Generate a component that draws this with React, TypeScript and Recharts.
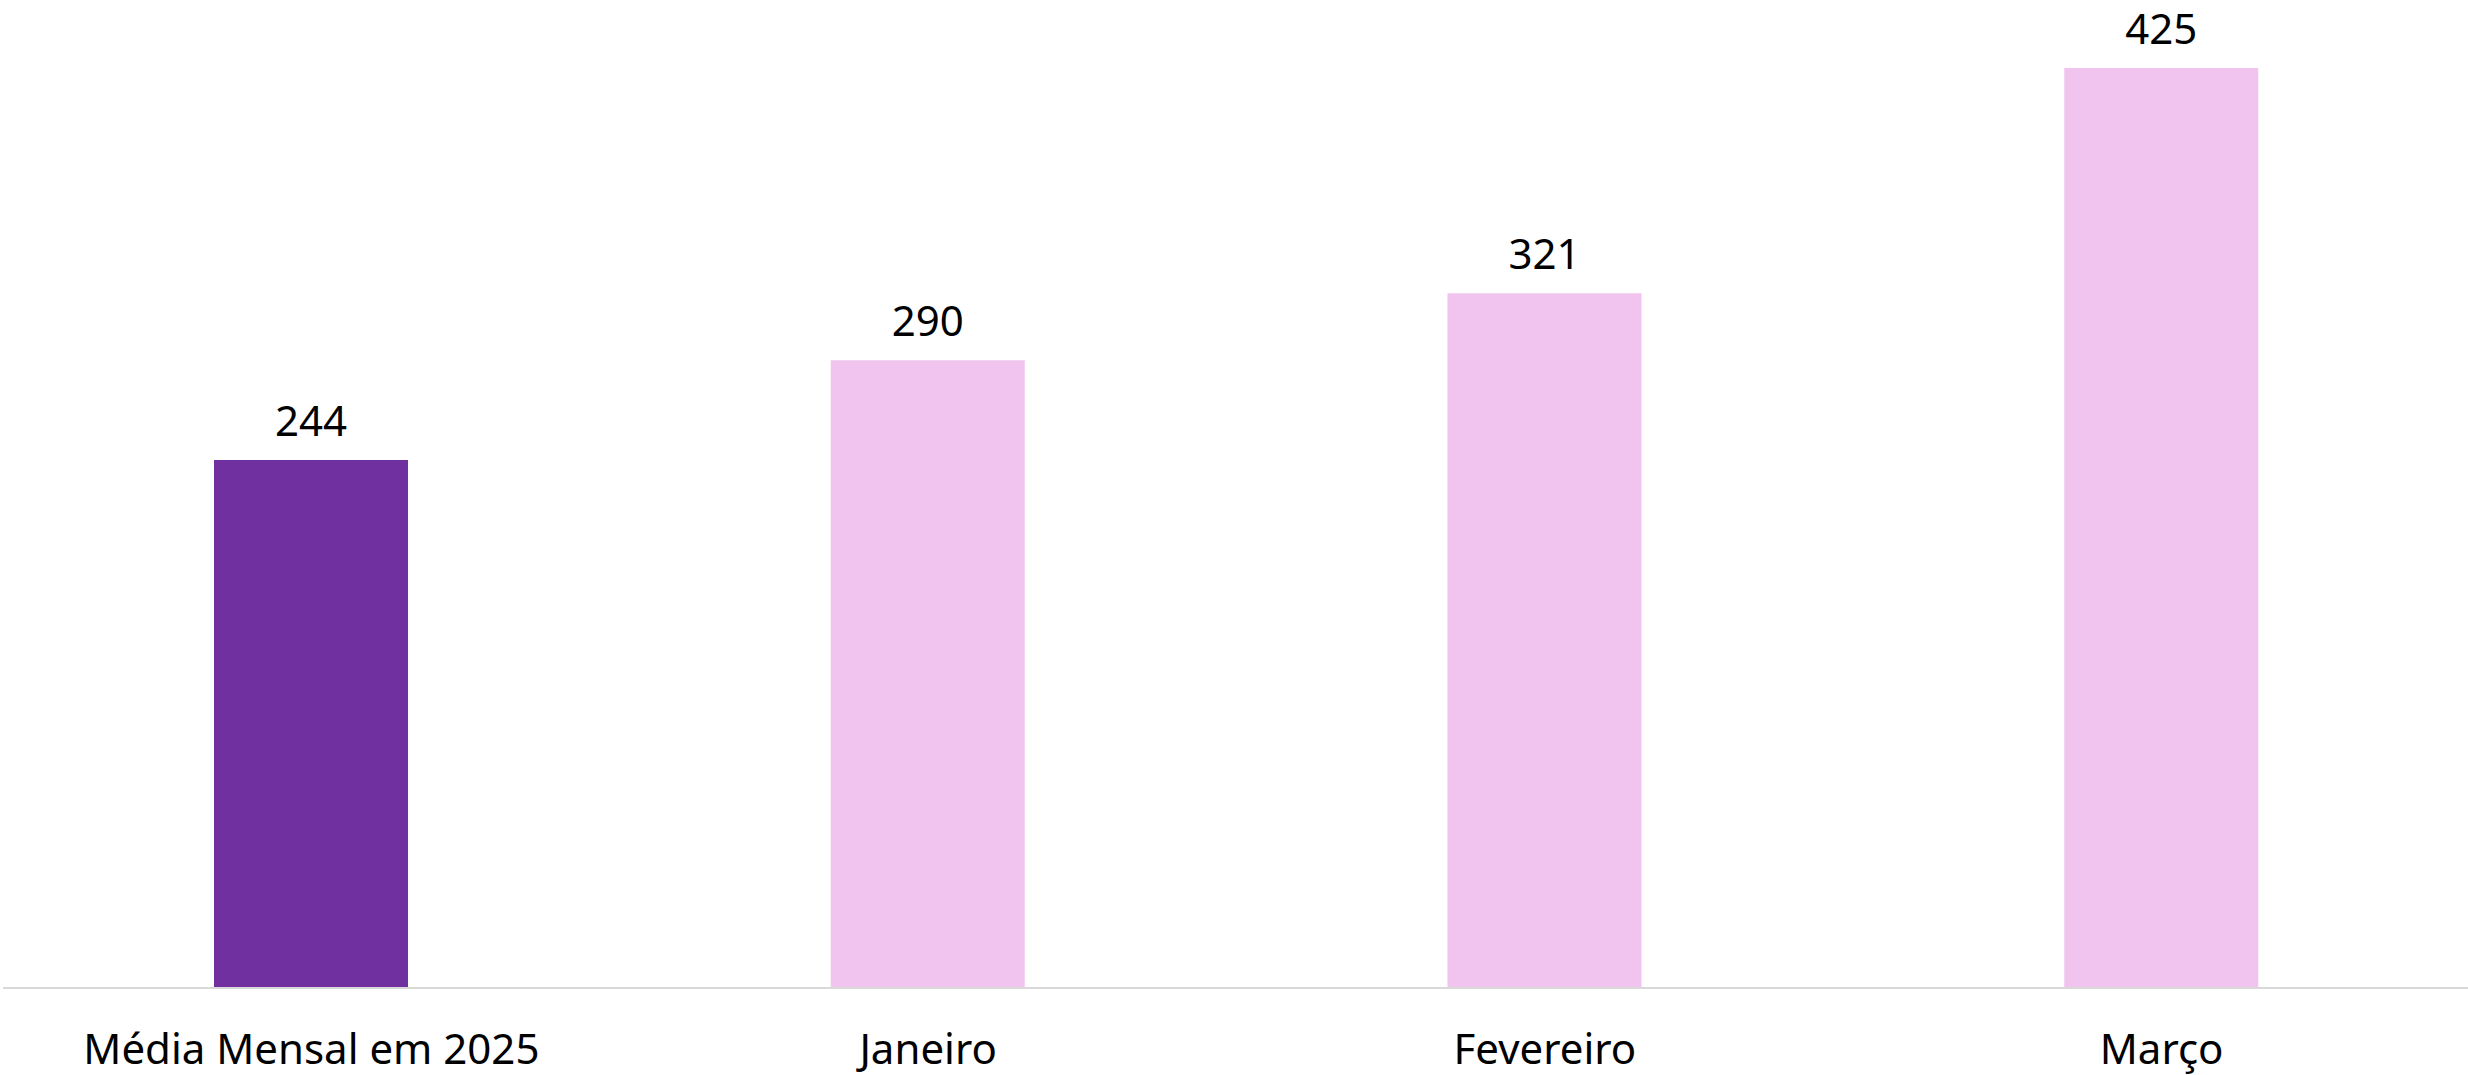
import { BarChart, Bar, XAxis, YAxis, Cell, LabelList } from "recharts";

const categories = ["Média Mensal em 2025", "Janeiro", "Fevereiro", "Março"];
const values = [244, 290, 321, 425];
const barColors = ["#7030A0", "#F1C4EF", "#F1C4EF", "#F1C4EF"];

const data = categories.map((name, i) => ({ name, value: values[i] }));

const FONT = "'Noto Sans', sans-serif";

export default function App() {
    return (
        <div style={{ position: "absolute", left: 0, top: 0, width: 2468, height: 1075, background: "#fff", overflow: "hidden" }}>
            <BarChart
                width={2468}
                height={1075}
                data={data}
                margin={{ top: 14, right: -2, left: 3, bottom: 0 }}
            >
                <XAxis
                    dataKey="name"
                    height={87}
                    tickLine={false}
                    tickSize={0}
                    tickMargin={46}
                    axisLine={{ stroke: "#D9D9D9", strokeWidth: 2 }}
                    tick={{ fontSize: 42, fill: "#000", fontFamily: FONT }}
                    interval={0}
                />
                <YAxis hide domain={[0, 450]} />
                <Bar dataKey="value" barSize={194} isAnimationActive={false}>
                    {data.map((d, i) => (
                        <Cell key={d.name} fill={barColors[i]} />
                    ))}
                    <LabelList
                        dataKey="value"
                        position="top"
                        offset={24}
                        style={{ fontSize: 42, fill: "#000", fontFamily: FONT }}
                    />
                </Bar>
            </BarChart>
        </div>
    );
}
